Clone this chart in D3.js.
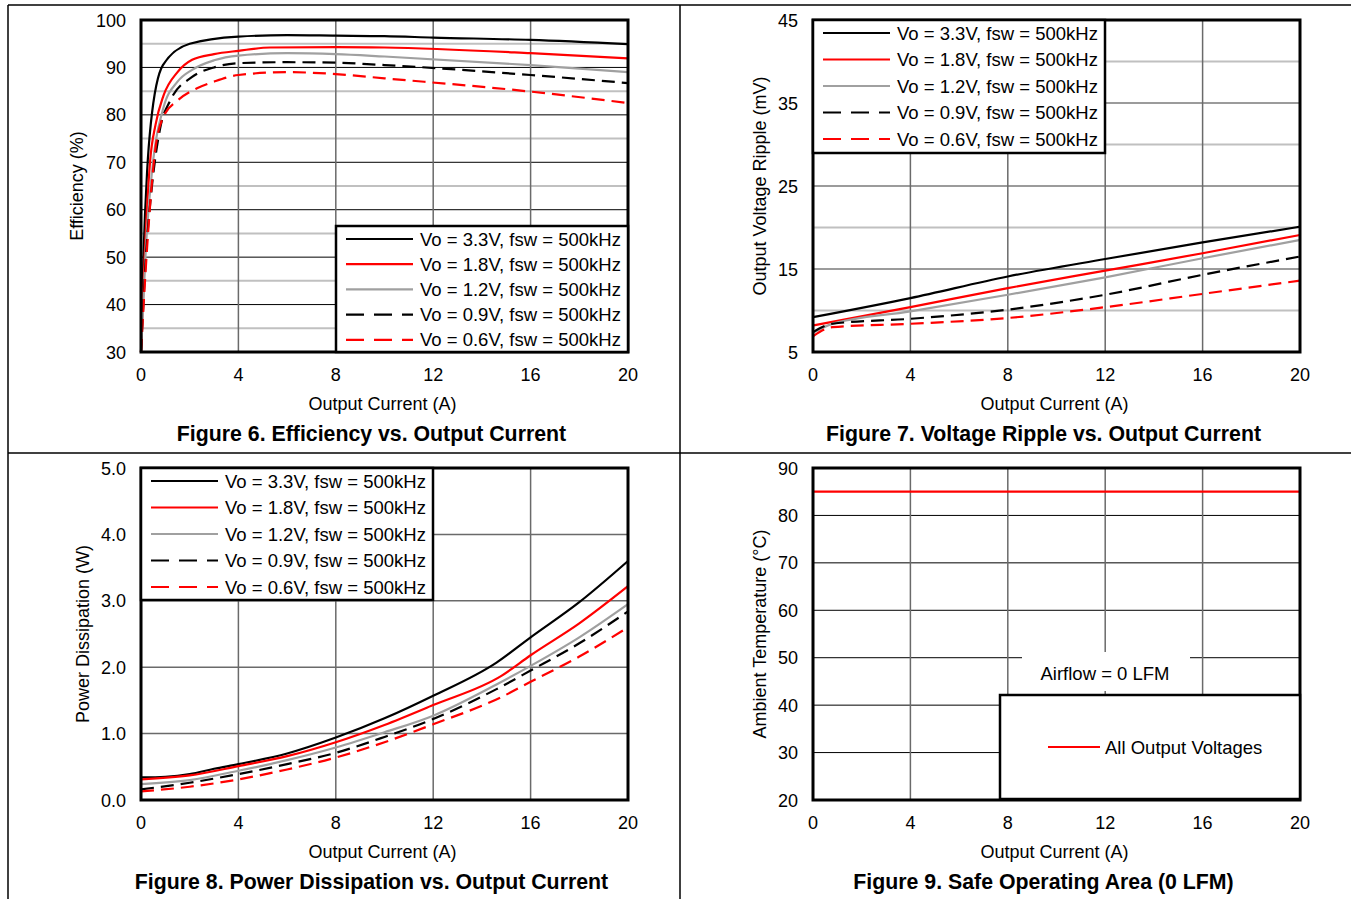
<!DOCTYPE html>
<html>
<head>
<meta charset="utf-8">
<script src="https://cdn.jsdelivr.net/npm/d3@7"></script>
<style>
  body { margin: 0; background: #fff; }
  svg { display: block; font-family: Arial, "Liberation Sans", sans-serif; }
</style>
</head>
<body>
<svg id="chart" width="1351" height="899"></svg>
<script>
////////////////////////////////////////////////////////////////////////
// data
////////////////////////////////////////////////////////////////////////
var seriesNames = ["Vo = 3.3V, fsw = 500kHz", "Vo = 1.8V, fsw = 500kHz", "Vo = 1.2V, fsw = 500kHz",
                   "Vo = 0.9V, fsw = 500kHz", "Vo = 0.6V, fsw = 500kHz"];
var xTicks = [0, 4, 8, 12, 16, 20];

// Figure 6 - efficiency (%)
var eff33 = [[0,30],[0.1,50],[0.25,68],[0.4,78],[0.9,90.5],[2,95],[4,96.5],[6,96.8],[8,96.7],[10,96.6],[12,96.3],[16,95.8],[20,94.9]];
var eff18 = [[0,30],[0.15,50],[0.37,70],[0.6,78],[0.92,84],[1.5,89],[2.1,91.6],[3,92.8],[4,93.5],[5.3,94.2],[8,94.3],[10,94.2],[16,93],[20,91.9]];
var eff12 = [[0,30],[0.2,52],[0.45,68],[0.92,81.5],[1.5,87],[2.1,89.5],[3,91.5],[4,92.5],[6,93],[8,92.8],[10,92.3],[16,90.5],[20,89]];
var eff09 = [[0,30],[0.2,50],[0.45,65],[0.78,77],[1.2,83],[2.1,88],[3,90],[4,90.9],[6,91.1],[8,91],[10,90.5],[16,88.4],[20,86.7]];
var eff06 = [[0,30],[0.25,52],[0.57,72],[0.92,79.6],[1.5,83],[2.3,85.6],[3,87],[4,88.4],[6,89],[8,88.6],[10,87.7],[16,84.9],[20,82.5]];
var effTicks = [30, 40, 50, 60, 70, 80, 90, 100];

// Figure 7 - output voltage ripple (mV)
var rip33 = [[0,9.2],[4,11.5],[8,14.1],[12,16.2],[16,18.2],[20,20.1]];
var rip18 = [[0,8.2],[4,10.4],[8,12.7],[12,14.8],[16,16.9],[20,19.1]];
var rip12 = [[0,7.3],[0.7,8.3],[4,9.9],[8,11.9],[12,14],[16,16.3],[20,18.5]];
var rip09 = [[0,7.4],[0.8,8.4],[4,9],[8,10.1],[12,11.9],[16,14.3],[20,16.5]];
var rip06 = [[0,6.9],[0.8,8.0],[4,8.4],[8,9.1],[12,10.4],[16,12],[20,13.6]];
var ripTicks = [5, 15, 25, 35, 45];

// Figure 8 - power dissipation (W)
var pd33 = [[0,0.34],[1,0.35],[2,0.39],[3,0.47],[4,0.54],[6,0.7],[8,0.94],[10,1.23],[12,1.57],[14.6,2.07],[16,2.45],[18,2.98],[20,3.6]];
var pd18 = [[0,0.31],[2,0.37],[4,0.51],[6,0.66],[8,0.87],[10,1.13],[12,1.43],[14.8,1.87],[16,2.18],[18,2.66],[20,3.22]];
var pd12 = [[0,0.24],[2,0.3],[4,0.44],[6,0.6],[8,0.79],[10,1.02],[12,1.27],[14.6,1.74],[16,2.02],[18,2.45],[20,2.95]];
var pd09 = [[0,0.16],[2,0.26],[4,0.39],[6,0.54],[8,0.71],[10,0.95],[12,1.22],[14.6,1.67],[16,1.95],[18,2.36],[20,2.84]];
var pd06 = [[0,0.13],[2,0.2],[4,0.31],[6,0.46],[8,0.64],[10,0.87],[12,1.14],[14.8,1.55],[16,1.78],[18,2.16],[20,2.6]];
var pdTicks = [0, 1, 2, 3, 4, 5];

// Figure 9 - safe operating area (deg C)
var soaAll = [[0,85],[20,85]];
var soaTicks = [20, 30, 40, 50, 60, 70, 80, 90];

// line styles for the five outputs
var lineColors = ["#000", "#ff0000", "#a0a0a0", "#000", "#ff0000"];
var lineDash = [null, null, null, "13,7", "13,7"];
var legendDash = [null, null, null, "18,10", "18,10"];

var svg = d3.select("#chart");

////////////////////////////////////////////////////////////////////////
// frame lines round the four figures
////////////////////////////////////////////////////////////////////////
svg.append("line").attr("x1", 8).attr("x2", 1351).attr("y1", 5).attr("y2", 5).attr("stroke", "#000").attr("stroke-width", 1.5);
svg.append("line").attr("x1", 8).attr("x2", 8).attr("y1", 5).attr("y2", 899).attr("stroke", "#000").attr("stroke-width", 1.5);
svg.append("line").attr("x1", 680).attr("x2", 680).attr("y1", 5).attr("y2", 899).attr("stroke", "#000").attr("stroke-width", 1.5);
svg.append("line").attr("x1", 8).attr("x2", 1351).attr("y1", 453).attr("y2", 453).attr("stroke", "#000").attr("stroke-width", 1.5);

////////////////////////////////////////////////////////////////////////
// one figure
////////////////////////////////////////////////////////////////////////
function drawPanel(cfg)
  {
  var x = d3.scaleLinear().domain([0, 20]).range([cfg.left, cfg.left + 487]);
  var y = d3.scaleLinear().domain(cfg.yDomain).range([cfg.top + 332, cfg.top]);
  var g = svg.append("g");

  // minor horizontal grid
  (cfg.minor || []).forEach(function(v)
    {
    g.append("line").attr("x1", x(0)).attr("x2", x(20)).attr("y1", y(v)).attr("y2", y(v))
      .attr("stroke", "#c0c0c0").attr("stroke-width", 2);
    });

  // major horizontal grid
  cfg.yTicks.slice(1, -1).forEach(function(v)
    {
    g.append("line").attr("x1", x(0)).attr("x2", x(20)).attr("y1", y(v)).attr("y2", y(v))
      .attr("stroke", cfg.majorColor).attr("stroke-width", cfg.majorWidth);
    });

  // vertical grid
  xTicks.slice(1, -1).forEach(function(v)
    {
    g.append("line").attr("x1", x(v)).attr("x2", x(v)).attr("y1", y.range()[0]).attr("y2", y.range()[1])
      .attr("stroke", "#6a6a6a").attr("stroke-width", 1.5);
    });

  // series
  var line = d3.line().x(function(d) { return x(d[0]); }).y(function(d) { return y(d[1]); })
    .curve(d3.curveMonotoneX);
  cfg.series.forEach(function(s, i)
    {
    g.append("path").attr("d", line(s)).attr("fill", "none")
      .attr("stroke", cfg.colors[i]).attr("stroke-width", 2.2)
      .attr("stroke-dasharray", cfg.dash[i]);
    });

  // plot border
  g.append("rect").attr("x", x(0)).attr("y", y.range()[1]).attr("width", x(20) - x(0))
    .attr("height", y.range()[0] - y.range()[1]).attr("fill", "none").attr("stroke", "#000").attr("stroke-width", 3);

  // tick labels
  cfg.yTicks.forEach(function(v)
    {
    g.append("text").attr("x", x(0) - 15).attr("y", y(v) + 6.5).attr("text-anchor", "end")
      .attr("font-size", 18).text(cfg.fmt(v));
    });
  xTicks.forEach(function(v)
    {
    g.append("text").attr("x", x(v)).attr("y", y.range()[0] + 28.5).attr("text-anchor", "middle")
      .attr("font-size", 18).text(v);
    });

  // axis titles and figure caption
  var midX = (x(0) + x(20)) / 2;
  var midY = (y.range()[0] + y.range()[1]) / 2;
  g.append("text").attr("transform", "translate(" + (x(0) - cfg.yTitleOff) + "," + midY + ") rotate(-90)")
    .attr("text-anchor", "middle").attr("font-size", 18).text(cfg.yTitle);
  g.append("text").attr("x", midX - 2).attr("y", y.range()[0] + 57.5).attr("text-anchor", "middle")
    .attr("font-size", 18).text("Output Current (A)");
  g.append("text").attr("x", midX - 13).attr("y", y.range()[0] + 89).attr("text-anchor", "middle")
    .attr("font-size", 21.3).attr("font-weight", "bold").text(cfg.caption);

  // legend
  if(cfg.legend)
    {
    var L = cfg.legend;
    g.append("rect").attr("x", L.x).attr("y", L.y).attr("width", L.w).attr("height", L.h)
      .attr("fill", "#fff").attr("stroke", "#000").attr("stroke-width", 2.5);
    L.names.forEach(function(n, i)
      {
      var ly = L.y + 13 + i * L.step;
      g.append("line").attr("x1", L.x + 10).attr("x2", L.x + 77).attr("y1", ly).attr("y2", ly)
        .attr("stroke", cfg.colors[i]).attr("stroke-width", 2.2).attr("stroke-dasharray", legendDash[i]);
      g.append("text").attr("x", L.x + 84).attr("y", ly + 6.5).attr("font-size", 18.5).text(n);
      });
    }

  return {x: x, y: y, g: g};
  }

drawPanel({
  left: 141, top: 20, yDomain: [30, 100], yTicks: effTicks, minor: [35, 45, 55, 65, 75, 85, 95],
  majorColor: "#000", majorWidth: 1, fmt: function(v) { return v; },
  series: [eff33, eff18, eff12, eff09, eff06], colors: lineColors, dash: lineDash,
  yTitle: "Efficiency (%)", yTitleOff: 58, caption: "Figure 6. Efficiency vs. Output Current",
  legend: {x: 336, y: 226, w: 292, h: 126, step: 25.2, names: seriesNames}
  });

drawPanel({
  left: 813, top: 20, yDomain: [5, 45], yTicks: ripTicks, minor: [10, 20, 30, 40],
  majorColor: "#7a7a7a", majorWidth: 1.5, fmt: function(v) { return v; },
  series: [rip33, rip18, rip12, rip09, rip06], colors: lineColors, dash: lineDash,
  yTitle: "Output Voltage Ripple (mV)", yTitleOff: 47, caption: "Figure 7. Voltage Ripple vs. Output Current",
  legend: {x: 813, y: 20, w: 292, h: 133, step: 26.5, names: seriesNames}
  });

drawPanel({
  left: 141, top: 468, yDomain: [0, 5], yTicks: pdTicks, minor: [],
  majorColor: "#6a6a6a", majorWidth: 1.5, fmt: d3.format(".1f"),
  series: [pd33, pd18, pd12, pd09, pd06], colors: lineColors, dash: lineDash,
  yTitle: "Power Dissipation (W)", yTitleOff: 52, caption: "Figure 8. Power Dissipation vs. Output Current",
  legend: {x: 141, y: 468, w: 292, h: 132, step: 26.5, names: seriesNames}
  });

var p4 = drawPanel({
  left: 813, top: 468, yDomain: [20, 90], yTicks: soaTicks, minor: [],
  majorColor: "#000", majorWidth: 1, fmt: function(v) { return v; },
  series: [soaAll], colors: ["#ff0000"], dash: [null],
  yTitle: "Ambient Temperature (°C)", yTitleOff: 47, caption: "Figure 9. Safe Operating Area (0 LFM)",
  legend: null
  });

// airflow note and legend for figure 9
p4.g.append("rect").attr("x", 1022).attr("y", 652).attr("width", 168).attr("height", 39).attr("fill", "#fff");
p4.g.append("text").attr("x", 1105).attr("y", 679.5).attr("text-anchor", "middle").attr("font-size", 18.5)
  .text("Airflow = 0 LFM");
p4.g.append("rect").attr("x", 1000).attr("y", 695).attr("width", 300).attr("height", 104)
  .attr("fill", "#fff").attr("stroke", "#000").attr("stroke-width", 2.5);
p4.g.append("line").attr("x1", 1048).attr("x2", 1100).attr("y1", 747).attr("y2", 747)
  .attr("stroke", "#ff0000").attr("stroke-width", 2.2);
p4.g.append("text").attr("x", 1105).attr("y", 754).attr("font-size", 18.5).text("All Output Voltages");
</script>
</body>
</html>
